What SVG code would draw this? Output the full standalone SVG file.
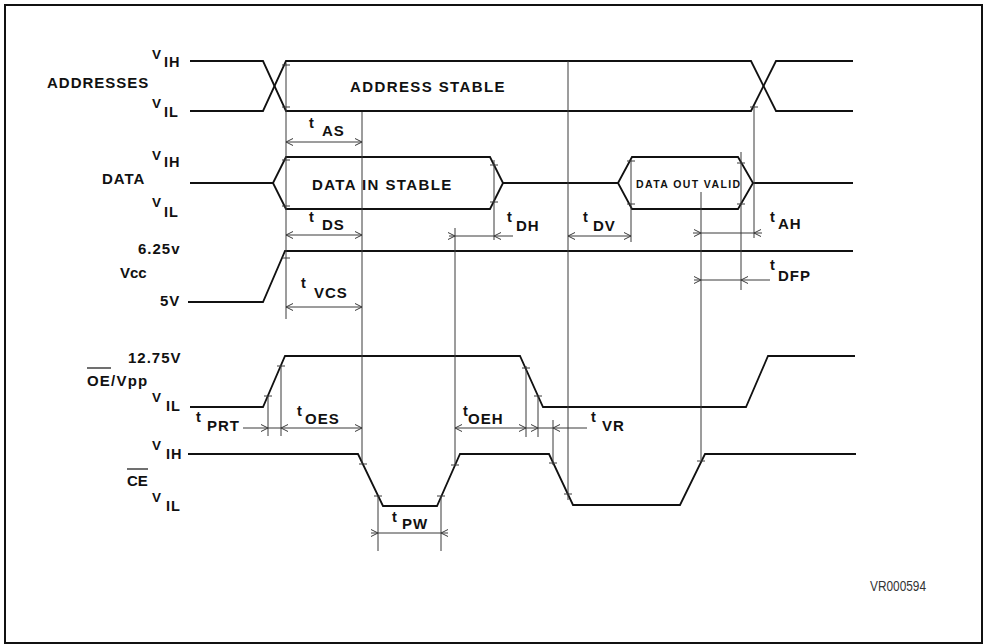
<svg xmlns="http://www.w3.org/2000/svg" xmlns:xlink="http://www.w3.org/1999/xlink" width="986" height="644" viewBox="0 0 986 644">
<style>
.w{fill:none;stroke:#111;stroke-width:1.8;stroke-linejoin:miter}
.r{fill:none;stroke:#3a3a3a;stroke-width:1}
.tk{fill:none;stroke:#3a3a3a;stroke-width:1}
.ch{fill:none;stroke:#3a3a3a;stroke-width:1}
.lb{font-family:"Liberation Sans",Arial,sans-serif;font-weight:bold;fill:#111}
.m{font-size:15px;letter-spacing:1px}
.v{font-size:13.5px}
.s{font-size:14.5px;letter-spacing:1px}
.t{font-size:14.5px}
.ts{font-size:15px;letter-spacing:1px}
.vo{font-size:15px;letter-spacing:1px}
.bx{font-size:15px;letter-spacing:1.4px}
</style>
<defs>
<path id="ar" d="M-7,-3.5 L0,0 L-7,3.5"/>
<path id="al" d="M7,-3.5 L0,0 L7,3.5"/>
</defs>
<rect x="5" y="5" width="977" height="638" fill="#fff" stroke="#111" stroke-width="2"/>

<g id="addresses">
<path class="w" d="M190,61 H263 L286,111 H751 L776,61 H853"/>
<path class="w" d="M190,111 H263 L286,61 H751 L776,111 H853"/>
<text class="lb m" x="47" y="88">ADDRESSES</text>
<text class="lb v" x="152" y="59">V</text><text class="lb s" x="164" y="67">IH</text>
<text class="lb v" x="152" y="108">V</text><text class="lb s" x="164" y="117">IL</text>
<text class="lb bx" x="350" y="92">ADDRESS STABLE</text>
</g>

<g id="data">
<path class="w" d="M190,183 H273 L286,157 H490 L503,183 H618 L632,157 H738 L753,183 H853"/>
<path class="w" d="M273,183 L286,209 H490 L503,183 M618,183 L632,209 H738 L753,183"/>
<text class="lb m" x="102" y="184">DATA</text>
<text class="lb v" x="152" y="160">V</text><text class="lb s" x="164" y="167">IH</text>
<text class="lb v" x="152" y="207">V</text><text class="lb s" x="164" y="217">IL</text>
<text class="lb bx" x="312" y="190">DATA IN STABLE</text>
<text class="lb" x="636" y="188" font-size="10.5" letter-spacing="1.4">DATA OUT VALID</text>
</g>

<g id="vcc">
<path class="w" d="M188,302 H263 L285,251 H853"/>
<text class="lb vo" x="138" y="254">6.25v</text>
<text class="lb" x="120" y="278" font-size="15">Vcc</text>
<text class="lb vo" x="160" y="306">5V</text>
</g>

<g id="oe-vpp">
<path class="w" d="M190,407 H263 L285,356 H520 L543,407 H746 L768,356 H855"/>
<text class="lb vo" x="128" y="363">12.75V</text>
<text class="lb" x="87" y="386" font-size="15" letter-spacing="1.2">OE/Vpp</text>
<line x1="87" y1="368" x2="111" y2="368" stroke="#111" stroke-width="1.2"/>
<text class="lb v" x="152" y="402">V</text><text class="lb s" x="166" y="411">IL</text>
</g>

<g id="ce">
<path class="w" d="M188,454 H358 L383,506 H437 L460,454 H549 L573,505 H680 L705,454 H856"/>
<text class="lb" x="127" y="486" font-size="15">CE</text>
<line x1="127" y1="469" x2="148" y2="469" stroke="#111" stroke-width="1.2"/>
<text class="lb v" x="152" y="450">V</text><text class="lb s" x="166" y="459">IH</text>
<text class="lb v" x="152" y="502">V</text><text class="lb s" x="166" y="511">IL</text>
</g>

<g id="connectors">
<g class="r">
<line x1="286" y1="63" x2="286" y2="319"/>
<line x1="362" y1="112" x2="362" y2="463"/>
<line x1="455" y1="228" x2="455" y2="466"/>
<line x1="494" y1="160" x2="494" y2="240"/>
<line x1="568" y1="61" x2="568" y2="500"/>
<line x1="631" y1="160" x2="631" y2="242"/>
<line x1="701" y1="192" x2="701" y2="460"/>
<line x1="741" y1="152" x2="741" y2="290"/>
<line x1="754" y1="106" x2="754" y2="238"/>
<line x1="268" y1="396" x2="268" y2="436"/>
<line x1="281" y1="365" x2="281" y2="436"/>
<line x1="526" y1="366" x2="526" y2="437"/>
<line x1="538" y1="396" x2="538" y2="437"/>
<line x1="553" y1="420" x2="553" y2="465"/>
<line x1="378" y1="496" x2="378" y2="551"/>
<line x1="441" y1="496" x2="441" y2="551"/>
</g>
<path class="tk" d="M282,65 h8 M282,107 h8 M282,160 h8 M282,206 h8 M282,258 h8 M490,165 h8 M490,202 h8 M627,161 h8 M627,204 h8 M737,163 h8 M737,204 h8 M750,107 h8 M264,396 h8 M277,366 h8 M522,368 h8 M534,396 h8 M359,464 h8 M374,496 h8 M437,496 h8 M451,465 h8 M549,463 h8 M564,494 h8 M697,461 h8"/>
<g class="r">
<line x1="286" y1="142" x2="362" y2="142"/>
<line x1="286" y1="235" x2="362" y2="235"/>
<line x1="286" y1="307" x2="362" y2="307"/>
<line x1="449" y1="236" x2="513" y2="236"/>
<line x1="568" y1="236" x2="631" y2="236"/>
<line x1="693" y1="233" x2="762" y2="233"/>
<line x1="694" y1="280" x2="770" y2="280"/>
<line x1="243" y1="428" x2="362" y2="428"/>
<line x1="455" y1="428" x2="587" y2="428"/>
<line x1="371" y1="533" x2="448" y2="533"/>
</g>
<g class="ch">
<use xlink:href="#al" x="286" y="142"/><use xlink:href="#ar" x="362" y="142"/>
<use xlink:href="#al" x="286" y="235"/><use xlink:href="#ar" x="362" y="235"/>
<use xlink:href="#al" x="286" y="307"/><use xlink:href="#ar" x="362" y="307"/>
<use xlink:href="#ar" x="455" y="236"/><use xlink:href="#al" x="494" y="236"/>
<use xlink:href="#al" x="568" y="236"/><use xlink:href="#ar" x="631" y="236"/>
<use xlink:href="#ar" x="701" y="233"/><use xlink:href="#al" x="754" y="233"/>
<use xlink:href="#ar" x="701" y="280"/><use xlink:href="#al" x="741" y="280"/>
<use xlink:href="#ar" x="268" y="428"/><use xlink:href="#al" x="281" y="428"/><use xlink:href="#ar" x="362" y="428"/>
<use xlink:href="#al" x="455" y="428"/><use xlink:href="#ar" x="526" y="428"/><use xlink:href="#ar" x="538" y="428"/><use xlink:href="#al" x="553" y="428"/>
<use xlink:href="#ar" x="378" y="533"/><use xlink:href="#al" x="441" y="533"/>
</g>
</g>

<g id="timing-labels">
<text class="lb t" x="309" y="128">t</text><text class="lb ts" x="322" y="136">AS</text>
<text class="lb t" x="309" y="222">t</text><text class="lb ts" x="322" y="230">DS</text>
<text class="lb t" x="301" y="288">t</text><text class="lb ts" x="314" y="298">VCS</text>
<text class="lb t" x="507" y="222">t</text><text class="lb ts" x="516" y="231">DH</text>
<text class="lb t" x="583" y="222">t</text><text class="lb ts" x="593" y="231">DV</text>
<text class="lb t" x="770" y="222">t</text><text class="lb ts" x="778" y="229">AH</text>
<text class="lb t" x="770" y="270">t</text><text class="lb ts" x="778" y="281">DFP</text>
<text class="lb t" x="196" y="422">t</text><text class="lb ts" x="207" y="431">PRT</text>
<text class="lb t" x="297" y="416">t</text><text class="lb ts" x="305" y="424">OES</text>
<text class="lb t" x="463" y="416">t</text><text class="lb ts" x="468" y="424">OEH</text>
<text class="lb t" x="591" y="422">t</text><text class="lb ts" x="602" y="431">VR</text>
<text class="lb t" x="392" y="522">t</text><text class="lb ts" x="402" y="529">PW</text>
<text x="870" y="591" font-family="'Liberation Sans',Arial,sans-serif" font-size="15" fill="#333" textLength="56" lengthAdjust="spacingAndGlyphs">VR000594</text>
</g>
</svg>
